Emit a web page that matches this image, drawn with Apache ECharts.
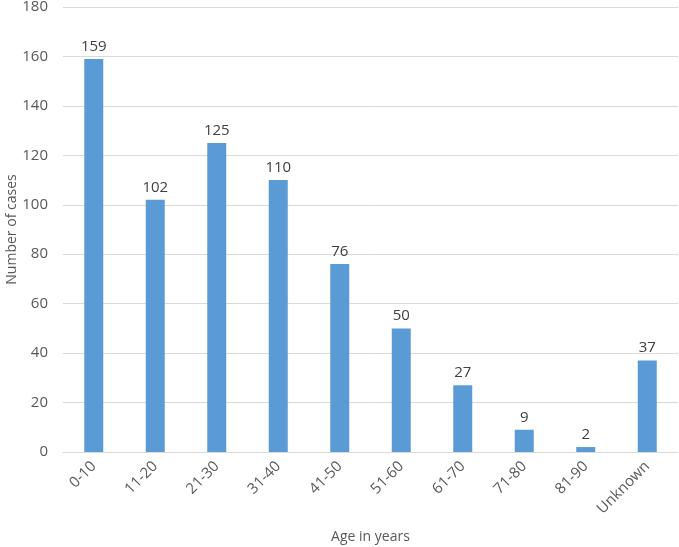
<!DOCTYPE html>
<html>
<head>
<meta charset="utf-8">
<script src="https://cdn.jsdelivr.net/npm/echarts@6/dist/echarts.min.js"></script>
<style>
html, body { margin: 0; padding: 0; background: #fff; }
#echart { width: 679px; height: 547px; }
</style>
</head>
<body>
<div id="echart"></div>
<script>
var ageGroups = ['0-10', '11-20', '21-30', '31-40', '41-50', '51-60', '61-70', '71-80', '81-90', 'Unknown'];
var caseCounts = [159, 102, 125, 110, 76, 50, 27, 9, 2, 37];

var txtColor = '#595959';
var fontName = 'Open Sans';

var echart = echarts.init(document.getElementById('echart'));
echart.setOption({
    animation: false,
    textStyle: { fontFamily: fontName },
    grid: { left: 63, right: 1, top: 7, bottom: 95, outerBoundsMode: 'none' },
    xAxis: {
        type: 'category',
        data: ageGroups,
        name: 'Age in years',
        nameLocation: 'middle',
        nameGap: 78,
        nameMoveOverlap: false,
        nameTextStyle: { color: txtColor, fontSize: 14, fontFamily: fontName },
        axisLine: { lineStyle: { color: '#d9d9d9' } },
        axisTick: { show: false },
        axisLabel: { rotate: 45, color: txtColor, fontSize: 15, margin: 12, interval: 0 }
    },
    yAxis: {
        type: 'value',
        min: 0,
        max: 180,
        interval: 20,
        name: 'Number of cases',
        nameLocation: 'middle',
        nameGap: 44,
        nameMoveOverlap: false,
        nameTextStyle: { color: txtColor, fontSize: 14, fontFamily: fontName },
        axisLine: { show: false },
        axisTick: { show: false },
        axisLabel: { color: txtColor, fontSize: 15, margin: 15 },
        splitLine: { lineStyle: { color: '#d9d9d9' } }
    },
    series: [{
        type: 'bar',
        data: caseCounts,
        barWidth: 19,
        itemStyle: { color: '#5b9bd5' },
        label: { show: true, position: 'top', color: '#404040', fontSize: 15, distance: 5 }
    }]
});
</script>
</body>
</html>
